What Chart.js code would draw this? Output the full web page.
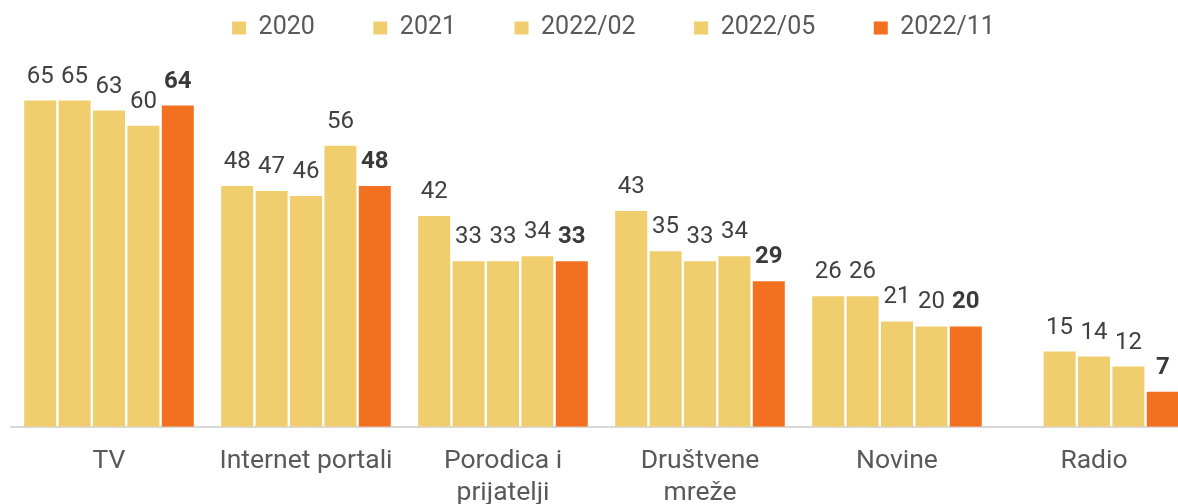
<!DOCTYPE html>
<html>
<head>
<meta charset="utf-8">
<script src="https://cdn.jsdelivr.net/npm/chart.js@4"></script>
<style>
  html, body { margin: 0; padding: 0; background: #fff; overflow: hidden; }
  .chart-container { position: relative; width: 1194px; height: 527px; }
</style>
</head>
<body>
<div class="chart-container">
  <canvas id="myChart"></canvas>
</div>
<script>
var categories = ["TV", "Internet portali", ["Porodica i", "prijatelji"], ["Društvene", "mreže"], "Novine", "Radio"];
var seriesNames = ["2020", "2021", "2022/02", "2022/05", "2022/11"];
var values2020 = [65, 48, 42, 43, 26, null];
var values2021 = [65, 47, 33, 35, 26, 15];
var values2022_02 = [63, 46, 33, 33, 21, 14];
var values2022_05 = [60, 56, 34, 34, 20, 12];
var values2022_11 = [64, 48, 33, 29, 20, 7];

var yellow = "#F0CE6E";
var orange = "#F37021";

// labels above the bars, last series in bold
var barLabels = {
  id: 'barLabels',
  afterDatasetsDraw: function (chart) {
    var ctx = chart.ctx;
    ctx.save();
    ctx.textAlign = 'center';
    ctx.textBaseline = 'alphabetic';
    chart.data.datasets.forEach(function (ds, i) {
      var last = i === chart.data.datasets.length - 1;
      ctx.font = (last ? 'bold ' : '') + '24px Roboto';
      ctx.fillStyle = last ? '#3a3a3a' : '#404040';
      chart.getDatasetMeta(i).data.forEach(function (bar, j) {
        if (ds.data[j] == null) return;
        ctx.fillText(ds.data[j], bar.x, bar.y - 18);
      });
    });
    ctx.restore();
  }
};

// legend padding is used vertically too, so pull it back up and a bit right
var legendShift = {
  id: 'legendShift',
  afterLayout: function (chart) {
    chart.legend.left += 12;
    chart.legend.right += 12;
    chart.legend.top -= 43;
    chart.legend.bottom -= 43;
  }
};

var allValues = [values2020, values2021, values2022_02, values2022_05, values2022_11];

var data = {
  labels: categories,
  datasets: seriesNames.map(function (name, i) {
    var color = i === seriesNames.length - 1 ? orange : yellow;
    return {
      label: name,
      data: allValues[i],
      backgroundColor: color,
      borderWidth: 0,
      categoryPercentage: 0.873,
      barPercentage: 0.93
    };
  })
};

var options = {
  responsive: true,
  maintainAspectRatio: false,
  animation: false,
  layout: {
    padding: { left: 10.5, right: 1.5, top: 0, bottom: 0 }
  },
  plugins: {
    legend: {
      display: true,
      position: 'top',
      labels: {
        boxWidth: 14,
        boxHeight: 13,
        padding: 58.5,
        color: '#595959',
        font: { family: 'Roboto', size: 25 }
      }
    },
    tooltip: { enabled: false },
    title: { display: false }
  },
  scales: {
    x: {
      grid: { display: false, drawTicks: false },
      border: { display: true, color: '#d9d9d9', width: 2 },
      ticks: {
        color: '#595959',
        padding: 18,
        maxRotation: 0,
        autoSkip: false,
        font: { family: 'Roboto', size: 26.5, lineHeight: 1.21 }
      }
    },
    y: {
      display: false,
      min: 0,
      max: 66.4
    }
  }
};

new Chart(document.getElementById('myChart'), {
  type: 'bar',
  data: data,
  options: options,
  plugins: [barLabels, legendShift]
});
</script>
</body>
</html>
